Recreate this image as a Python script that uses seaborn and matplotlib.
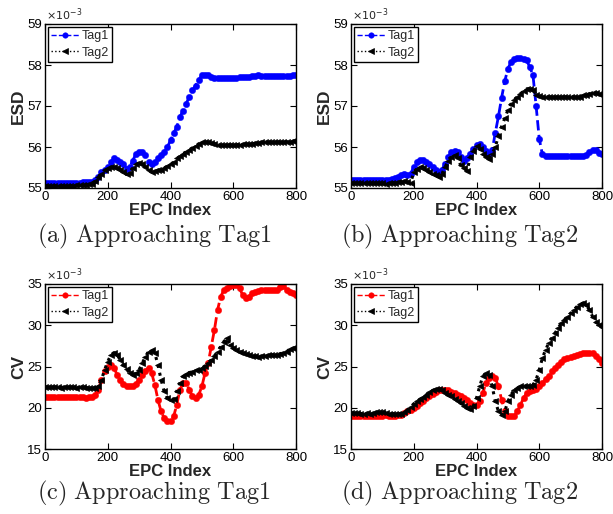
import matplotlib
matplotlib.use("Agg")
import matplotlib.pyplot as plt
import seaborn as sns

# ---------------- data (values in units of 1e-3) ----------------
epc_index = list(range(0, 801, 10))

esd_a_tag1 = [55.12, 55.11, 55.12, 55.11, 55.11, 55.12, 55.12, 55.11, 55.12, 55.12,
              55.13, 55.13, 55.14, 55.14, 55.14, 55.15, 55.19, 55.27, 55.39, 55.45,
              55.51, 55.63, 55.72, 55.69, 55.63, 55.59, 55.47, 55.51, 55.67, 55.84,
              55.89, 55.88, 55.80, 55.63, 55.59, 55.63, 55.72, 55.80, 55.88, 56.00,
              56.16, 56.33, 56.49, 56.73, 56.89, 57.06, 57.22, 57.38, 57.50, 57.63,
              57.75, 57.76, 57.75, 57.71, 57.69, 57.68, 57.68, 57.69, 57.68, 57.68,
              57.69, 57.69, 57.70, 57.70, 57.70, 57.71, 57.72, 57.73, 57.75, 57.74,
              57.73, 57.73, 57.73, 57.74, 57.73, 57.73, 57.74, 57.74, 57.74, 57.75,
              57.76]
esd_a_tag2 = [55.06, 55.05, 55.06, 55.05, 55.06, 55.06, 55.05, 55.06, 55.06, 55.06,
              55.07, 55.07, 55.08, 55.08, 55.09, 55.10, 55.17, 55.27, 55.35, 55.43,
              55.49, 55.51, 55.51, 55.49, 55.45, 55.39, 55.33, 55.37, 55.49, 55.58,
              55.61, 55.59, 55.51, 55.43, 55.39, 55.41, 55.43, 55.45, 55.49, 55.53,
              55.58, 55.63, 55.72, 55.77, 55.84, 55.88, 55.93, 55.98, 56.02, 56.08,
              56.11, 56.12, 56.11, 56.10, 56.08, 56.05, 56.04, 56.04, 56.05, 56.05,
              56.05, 56.06, 56.06, 56.07, 56.07, 56.08, 56.08, 56.09, 56.10, 56.11,
              56.12, 56.12, 56.11, 56.12, 56.12, 56.12, 56.13, 56.13, 56.13, 56.14,
              56.15]

esd_b_tag1 = [55.20, 55.19, 55.20, 55.19, 55.19, 55.20, 55.19, 55.19, 55.20, 55.19,
              55.19, 55.20, 55.20, 55.23, 55.25, 55.28, 55.31, 55.33, 55.31, 55.35,
              55.51, 55.63, 55.69, 55.69, 55.63, 55.58, 55.51, 55.45, 55.39, 55.45,
              55.59, 55.76, 55.88, 55.90, 55.88, 55.76, 55.67, 55.72, 55.84, 55.96,
              56.04, 56.07, 56.00, 55.90, 55.84, 55.92, 56.35, 56.75, 57.20, 57.60,
              57.91, 58.07, 58.15, 58.18, 58.17, 58.15, 58.11, 57.95, 57.75, 57.00,
              56.20, 55.82, 55.79, 55.77, 55.77, 55.77, 55.78, 55.77, 55.77, 55.78,
              55.77, 55.77, 55.77, 55.78, 55.79, 55.81, 55.88, 55.93, 55.92, 55.85,
              55.84]
esd_b_tag2 = [55.11, 55.12, 55.11, 55.11, 55.12, 55.11, 55.11, 55.12, 55.11, 55.11,
              55.11, 55.10, 55.11, 55.12, 55.13, 55.14, 55.15, 55.16, 55.15, 55.12,
              55.39, 55.47, 55.51, 55.50, 55.45, 55.39, 55.35, 55.31, 55.28, 55.35,
              55.51, 55.67, 55.76, 55.80, 55.72, 55.55, 55.48, 55.42, 55.75, 55.90,
              56.02, 55.96, 55.84, 55.76, 55.70, 55.84, 56.00, 56.28, 56.50, 56.70,
              56.90, 57.05, 57.15, 57.22, 57.30, 57.36, 57.42, 57.42, 57.40, 57.28,
              57.24, 57.22, 57.22, 57.22, 57.22, 57.22, 57.21, 57.22, 57.22, 57.22,
              57.22, 57.22, 57.21, 57.22, 57.26, 57.27, 57.30, 57.31, 57.32, 57.30,
              57.26]

cv_c_tag1 = [21.30, 21.28, 21.30, 21.25, 21.30, 21.28, 21.27, 21.25, 21.30, 21.28,
             21.25, 21.28, 21.30, 21.20, 21.25, 21.30, 21.57, 22.18, 23.39, 24.40,
             24.92, 25.20, 24.80, 24.00, 23.39, 22.90, 22.66, 22.58, 22.66, 22.90,
             23.39, 24.00, 24.50, 24.80, 24.19, 22.78, 20.97, 19.56, 18.75, 18.35,
             18.40, 18.95, 20.36, 22.18, 22.98, 22.98, 22.18, 21.37, 21.17, 21.57,
             22.58, 24.19, 25.40, 27.42, 29.44, 31.85, 33.47, 34.27, 34.48, 34.76,
             34.88, 34.85, 34.48, 33.67, 33.27, 33.47, 33.87, 34.07, 34.19, 34.25,
             34.27, 34.30, 34.25, 34.30, 34.30, 34.60, 34.76, 34.27, 34.07, 33.87,
             33.67]
cv_c_tag2 = [22.50, 22.52, 22.48, 22.50, 22.50, 22.45, 22.50, 22.48, 22.50, 22.47,
             22.45, 22.48, 22.50, 22.45, 22.40, 22.40, 22.42, 22.66, 23.39, 24.60,
             25.60, 26.41, 26.69, 26.41, 25.80, 25.20, 24.68, 24.19, 23.99, 24.19,
             24.60, 25.40, 26.21, 26.81, 27.02, 26.61, 25.20, 23.39, 21.98, 21.17,
             20.89, 21.05, 21.98, 22.98, 23.79, 24.11, 24.27, 24.35, 24.52, 24.55,
             24.80, 25.08, 25.40, 25.80, 26.29, 26.81, 27.42, 28.02, 28.43, 27.62,
             27.22, 27.02, 26.81, 26.65, 26.53, 26.40, 26.29, 26.25, 26.21, 26.25,
             26.29, 26.35, 26.41, 26.40, 26.45, 26.55, 26.69, 26.80, 27.10, 27.20,
             27.30]

cv_d_tag1 = [19.05, 19.05, 19.03, 19.05, 19.02, 19.00, 18.98, 19.00, 19.02, 19.05,
             19.05, 19.08, 19.05, 19.05, 19.05, 19.08, 19.15, 19.35, 19.56, 19.76,
             19.96, 20.24, 20.56, 20.85, 21.17, 21.45, 21.69, 21.94, 22.10, 22.18,
             22.18, 22.10, 21.94, 21.77, 21.57, 21.37, 21.17, 20.89, 20.56, 20.36,
             20.30, 20.77, 21.77, 22.98, 23.59, 23.79, 23.59, 22.58, 20.97, 19.56,
             19.03, 18.95, 19.00, 19.56, 20.36, 21.17, 21.77, 22.06, 22.18, 22.25,
             22.58, 22.98, 23.47, 23.87, 24.40, 24.80, 25.20, 25.60, 25.89, 26.00,
             26.13, 26.29, 26.41, 26.53, 26.61, 26.69, 26.65, 26.60, 26.29, 25.89,
             25.40]
cv_d_tag2 = [19.35, 19.38, 19.33, 19.30, 19.30, 19.32, 19.30, 19.40, 19.44, 19.45,
             19.44, 19.42, 19.30, 19.28, 19.27, 19.27, 19.30, 19.45, 19.76, 20.08,
             20.48, 20.77, 21.05, 21.29, 21.57, 21.85, 22.10, 22.26, 22.30, 22.10,
             21.77, 21.57, 21.37, 21.09, 20.85, 20.56, 20.24, 19.96, 19.84, 20.24,
             21.17, 22.58, 23.79, 24.19, 23.99, 22.58, 20.77, 19.56, 19.15, 19.56,
             20.77, 21.57, 22.18, 22.38, 22.58, 22.58, 22.60, 22.66, 22.78, 23.39,
             24.60, 26.01, 27.02, 27.82, 28.43, 29.03, 29.64, 30.24, 30.65, 31.05,
             31.45, 31.85, 32.26, 32.58, 32.66, 32.46, 31.85, 31.05, 30.44, 30.04,
             29.84]

series_labels = ["Tag1", "Tag2"]
x_ticks = [0, 200, 400, 600, 800]
esd_ticks = [55, 56, 57, 58, 59]
cv_ticks = [15, 20, 25, 30, 35]
captions = ["(a) Approaching Tag1", "(b) Approaching Tag2",
            "(c) Approaching Tag1", "(d) Approaching Tag2"]

# ---------------- style ----------------
sns.set_style("ticks", {"xtick.direction": "in", "ytick.direction": "in",
                        "axes.edgecolor": "black"})
plt.rcParams["font.family"] = ["Liberation Sans", "DejaVu Sans"]
plt.rcParams["mathtext.fontset"] = "cm"

fig = plt.figure(figsize=(6.13, 5.14), dpi=100)
W, H = 613, 514

def make_axes(left, top, right, bottom):
    return fig.add_axes([left / W, 1 - bottom / H, (right - left) / W, (bottom - top) / H])

panels = [
    (make_axes(45, 24, 296, 188), esd_a_tag1, esd_a_tag2, "blue", "ESD", esd_ticks),
    (make_axes(351, 24, 602, 188), esd_b_tag1, esd_b_tag2, "blue", "ESD", esd_ticks),
    (make_axes(45, 284, 296, 449), cv_c_tag1, cv_c_tag2, "red", "CV", cv_ticks),
    (make_axes(351, 284, 602, 449), cv_d_tag1, cv_d_tag2, "red", "CV", cv_ticks),
]

caption_pos = [(154, 236), (460, 236), (154, 493), (460, 493)]

for (ax, t1, t2, col, ylab, yt), cap, (cx, cy) in zip(panels, captions, caption_pos):
    sns.lineplot(x=epc_index, y=t1, ax=ax, color=col, linestyle="--", linewidth=2.0,
                 marker="o", markersize=4.6, markeredgewidth=0.3, markeredgecolor=col,
                 label=series_labels[0])
    sns.lineplot(x=epc_index, y=t2, ax=ax, color="black", linestyle=":", linewidth=2.2,
                 marker="<", markersize=4.6, markeredgewidth=0.5, markeredgecolor="black",
                 label=series_labels[1])
    ax.set_xlim(0, 800)
    ax.set_ylim(yt[0], yt[-1])
    ax.set_xticks(x_ticks)
    ax.set_yticks(yt)
    ax.tick_params(axis="both", which="both", direction="in", top=True, right=True,
                   length=4, width=0.8, labelsize=9.5, pad=2, colors="black")
    for s in ax.spines.values():
        s.set_visible(True)
        s.set_linewidth(1.0)
        s.set_color("black")
    ax.set_xlabel("EPC Index", fontsize=12, fontweight="bold", labelpad=0)
    ax.set_ylabel(ylab, fontsize=12.5, fontweight="bold", labelpad=1)
    ax.text(0.005, 1.005, r"$\times10^{-3}$", transform=ax.transAxes, fontsize=8,
            ha="left", va="bottom", math_fontfamily="dejavusans")
    leg = ax.legend(loc="upper left", fontsize=9, frameon=True, fancybox=False,
                    framealpha=1, edgecolor="black", borderaxespad=0.25,
                    handlelength=2.2, handletextpad=0.2, borderpad=0.25,
                    labelspacing=0.35, numpoints=1)
    leg.get_frame().set_linewidth(1.0)
    for h in leg.get_lines():
        h.set_linewidth(1.0)
        h.set_markersize(4)
    fig.text(cx / W, 1 - cy / H, r"$\mathrm{" + cap.replace(" ", r"\ ") + "}$",
             ha="center", va="center", fontsize=17.5)

fig.savefig("out.png", dpi=100)
